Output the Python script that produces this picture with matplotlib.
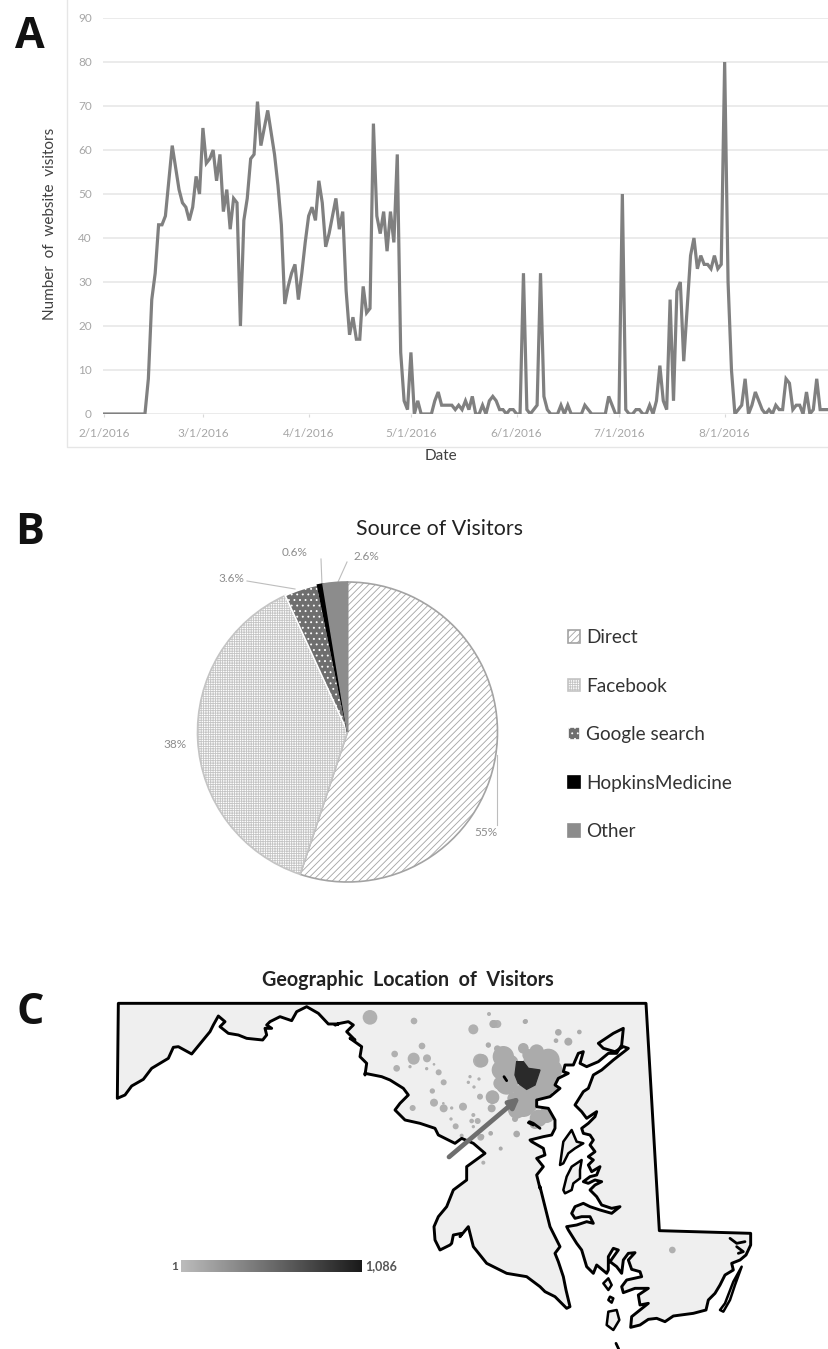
import matplotlib as mpl
import matplotlib.pyplot as plt
import numpy as np
import pandas as pd

mpl.rcParams["font.family"] = ["Lato", "DejaVu Sans"]
mpl.rcParams["hatch.linewidth"] = 0.6

W, H = 829, 1349

# Panel A: visitors per day from 2/1/2016
visitors = [
    0, 0, 0, 0, 0, 0, 0, 0, 0, 0, 0, 0, 0,
    8, 26, 32, 43, 43, 45, 53, 61, 56, 51, 48, 47, 44, 47, 54, 50, 65,
    57, 58, 60, 53, 59, 46, 51, 42, 49, 48,
    20, 44, 49, 58, 59, 71, 61, 65, 69, 64,
    59, 52, 43, 25, 29, 32, 34, 26, 32, 39,
    45, 47, 44, 53, 48, 38, 41, 45, 49, 42,
    46, 28, 18, 22, 17, 17, 29, 23, 24, 66,
    45, 41, 46, 37, 46, 39, 59, 14, 3, 1,
    14, 0, 3, 0, 0, 0, 0, 3, 5, 2,
    2, 2, 2, 1, 2, 1, 3, 1, 4, 0,
    0, 2, 0, 3, 4, 3, 1, 1, 0, 1,
    1, 0, 0, 32, 1, 0, 1, 2, 32, 4,
    1, 0, 0, 0, 2, 0, 2, 0, 0, 0,
    0, 2, 1, 0, 0, 0, 0, 0, 4, 2,
    0, 0, 50, 1, 0, 0, 1, 1, 0, 0,
    2, 0, 3, 11, 3, 1, 26, 3, 28, 30,
    12, 24, 36, 40, 33, 36, 34, 34, 33, 36,
    33, 34, 80, 30, 10, 0, 1, 2, 8, 0,
    2, 5, 3, 1, 0, 1, 0, 2, 1, 1,
    8, 7, 1, 2, 2, 0, 5, 0, 1, 8,
    1, 1, 1,
]
date_labels = ["2/1/2016", "3/1/2016", "4/1/2016", "5/1/2016", "6/1/2016", "7/1/2016", "8/1/2016"]
y_ticks = list(range(0, 100, 10))

# Panel B: traffic sources
sources = ["Direct", "Facebook", "Google search", "HopkinsMedicine", "Other"]
shares = [55, 38, 3.6, 0.6, 2.6]
share_labels = ["55%", "38%", "3.6%", "0.6%", "2.6%"]

# Panel C: map outline, traced piece by piece off zoomed crops of the picture.
# Each piece is in 3x crop units, with the crop's top left corner named first.
ne_corner = (430, 960)
ne_x = [648, 688]
ne_y = [130, 812]

se_corner = (560, 1210)
se_x = [572, 572, 558, 540, 515, 520, 495, 480, 465, 445, 438, 400, 340, 315, 290, 265, 240, 212, 215, 240, 265,
        240, 235, 265, 225, 190, 185, 200, 245, 240, 215, 205, 225, 205, 190, 185, 170, 150, 175, 160, 145, 145,
        140, 110, 100, 80, 65, 50, 25]
se_y = [70, 105, 135, 150, 160, 180, 195, 225, 250, 270, 300, 310, 318, 335, 325, 328, 345, 352, 320, 300, 280,
        285, 255, 235, 235, 248, 230, 210, 200, 185, 178, 150, 128, 130, 150, 190, 170, 155, 120, 115, 140, 180,
        190, 165, 190, 170, 120, 100, 60]

mid_corner = (540, 1110)
mid_x = [80, 110, 140, 160, 150, 125, 105, 95, 105, 130, 150, 180, 215, 240, 215, 185, 170, 150, 165, 185, 165,
         145, 130, 150, 170, 180, 155, 145, 160, 145, 165, 150, 160, 150, 130, 125, 145, 165, 170, 140, 125]
mid_y = [350, 345, 335, 340, 320, 320, 325, 310, 290, 280, 290, 300, 310, 290, 295, 285, 260, 240, 225, 215, 210,
         220, 215, 200, 195, 170, 185, 165, 150, 140, 125, 105, 90, 75, 70, 55, 40, 20, 5, 25, 5]

head_corner = (480, 1020)
head_x = [295, 285, 310, 325, 340, 365, 400, 445, 430, 405, 370, 355, 400, 430, 425, 410, 385, 355, 320, 300, 310,
          295, 280, 255, 250, 265, 235, 225, 240, 210, 170, 170, 205, 225, 225, 215, 190, 150]
head_y = [265, 255, 215, 205, 165, 150, 120, 85, 80, 95, 85, 70, 40, 25, 75, 100, 100, 125, 140, 130, 95,
          100, 135, 135, 155, 160, 175, 195, 205, 230, 240, 260, 265, 300, 325, 345, 350, 360]

shore_corner = (340, 1060)
shore_x = [575, 610, 615, 590, 610, 590, 600]
shore_y = [245, 265, 285, 295, 320, 345, 385]

south_corner = (430, 960)
south_x = [330, 345, 360, 375, 390, 375, 385, 400, 408, 420, 410, 375, 345, 330, 290, 230, 170, 130, 115, 90, 95,
           70, 65, 60, 30, 15, 12, 25, 50, 70, 110, 110, 165]
south_y = [680, 740, 800, 830, 860, 880, 905, 950, 990, 1040, 1045, 1010, 995, 980, 950, 940, 910, 860, 800, 830,
           820, 825, 850, 855, 870, 840, 800, 770, 740, 690, 660, 620, 580]

potomac_corner = (340, 1060)
potomac_x = [435, 400, 365, 345, 295, 285, 240, 195, 165, 180, 205, 190, 150, 125, 75]
potomac_y = [280, 250, 235, 250, 225, 205, 190, 180, 150, 130, 105, 85, 60, 50, 40]

ridge_corner = (100, 960)
ridge_x = [795, 800, 780, 785, 750, 765, 740, 760, 745, 720, 705]
ridge_y = [345, 310, 290, 260, 235, 240, 215, 195, 185, 190, 195]

north_corner = (110, 1000)
north_x = [685, 655, 625, 590, 560, 545, 510, 480, 470, 485, 465, 470, 458, 410, 385, 355, 330, 345, 325, 310, 300,
           245, 205, 190, 175, 125, 100, 65, 45, 22, 25]
north_y = [72, 72, 40, 20, 35, 62, 50, 65, 75, 85, 85, 105, 120, 115, 105, 100, 80, 65, 48, 75, 95,
           162, 140, 142, 175, 205, 238, 258, 285, 295, 10]

# islands and inlets, as loops in the crop they were read from
islands = [
    (mid_corner, [60, 65, 70, 95, 110, 130, 105, 85, 70], [165, 130, 95, 60, 95, 100, 115, 130, 160]),
    (mid_corner, [70, 80, 95, 125, 120, 120, 100, 95, 75], [240, 200, 170, 150, 180, 205, 220, 240, 250]),
    (se_corner, [480, 495, 520, 545, 525, 510, 490], [300, 280, 215, 170, 225, 270, 305]),
    (se_corner, [130, 145, 155, 145], [220, 205, 225, 240]),
    (se_corner, [150, 160, 155, 145], [260, 265, 278, 270]),
    (se_corner, [145, 170, 178, 160, 140], [305, 300, 330, 360, 345]),
]
inlets = [
    (se_corner, [510, 530, 555], [85, 100, 95]),
    (se_corner, [530, 550, 535], [110, 125, 130]),
    (se_corner, [168, 176], [400, 417]),
    (head_corner, [145, 160], [308, 315]),
    (head_corner, [72, 80], [170, 182]),
    (shore_corner, [568, 580, 600], [185, 190, 205]),
]

city_x = [110, 130, 145, 180, 165, 140, 115, 105]
city_y = [125, 125, 145, 150, 195, 208, 190, 165]

# visitor circles west of Baltimore: x, y and radius, crop units of corner (100, 960)
bubble_x = [810, 942, 1120, 1167, 1182, 966, 1165, 884, 941, 981, 1140, 890, 930, 980, 1002, 1016, 1031, 1110,
            1137, 1105, 1122, 997, 1140, 1177, 938, 1002, 1031, 1030, 1055, 1089, 1053, 1067, 1120, 1115, 1133,
            1120, 1085, 1142, 1172, 1150, 1202, 1166, 1192, 1277, 1717, 1430]
bubble_y = [172, 183, 208, 162, 192, 258, 256, 282, 296, 295, 302, 325, 320, 326, 313, 337, 367, 350,
            357, 367, 381, 393, 410, 411, 444, 428, 445, 430, 444, 440, 477, 499, 465, 483, 483,
            500, 527, 532, 520, 608, 566, 256, 192, 184, 870, 640]
bubble_r = [22, 10, 15, 6, 12, 10, 6, 10, 18, 12, 21, 10, 5, 5, 4, 9, 9, 5,
            5, 5, 5, 8, 9, 20, 9, 12, 12, 4, 5, 12, 5, 9, 6, 7, 9,
            5, 6, 10, 5, 6, 6, 6, 12, 7, 10, 12]

# visitor circles around Baltimore, crop units of head_corner
cluster_x = [70, 65, 130, 145, 205, 170, 200, 215, 185, 215, 80, 100, 100, 130, 110, 155, 175, 200, 105, 165, 110,
             38, 35, 5, 40, 25, 52, 135, 235, 298, 228, 265, 32, 62, 5, 140, 170, 90, 60, 150, 120, 150]
cluster_y = [110, 150, 85, 105, 120, 125, 170, 150, 205, 190, 190, 170, 235, 255, 270, 235, 295, 285, 297, 310, 342,
             232, 265, 122, 12, 75, 86, 5, 37, 36, 62, 65, 340, 385, 350, 225, 95, 130, 190, 125, 215, 255]
cluster_r = [32, 30, 16, 18, 34, 26, 32, 32, 34, 26, 34, 20, 18, 36, 26, 16, 26, 24, 9, 17, 10,
             20, 12, 20, 12, 8, 10, 7, 10, 7, 7, 12, 7, 5, 8, 24, 22, 26, 20, 20, 20, 22]
scale_labels = ["1", "1,086"]


def to_px(corner, xs, ys):
    return corner[0] + np.array(xs) / 3, corner[1] + np.array(ys) / 3


def px_axes(fig, left, top, right, bottom):
    return fig.add_axes([left / W, 1 - bottom / H, (right - left) / W, (bottom - top) / H])


fig = plt.figure(figsize=(W / 100, H / 100), dpi=100)

# overlay in picture pixels, for the letters, the frame and the map
over = fig.add_axes([0, 0, 1, 1])
over.set_xlim(0, W)
over.set_ylim(H, 0)
over.axis("off")

for letter, y_pos in zip("ABC", [37, 533, 1012]):
    over.text(30, y_pos, letter, fontsize=31, fontweight="bold", ha="center", va="center",
              family="Open Sans", color="#111111")

over.plot([67, 67, 829], [0, 447, 447], color="#e6e6e6", lw=1)

# Panel A
ax = px_axes(fig, 103, 18, 829, 414)
days = np.arange(len(visitors))
ax.plot(days, visitors, color="#808080", lw=2.3, solid_joinstyle="miter", zorder=3)
ax.set_xlim(-0.3, 212.6)
ax.set_ylim(0, 90)
start = pd.Timestamp("2016-02-01")
ax.set_xticks([(pd.Timestamp(d) - start).days for d in date_labels])
ax.set_xticklabels(date_labels)
ax.set_yticks(y_ticks)
ax.tick_params(axis="y", length=0, labelsize=8.5, labelcolor="#a6a6a6", pad=8)
ax.tick_params(axis="x", length=2, color="#d9d9d9", labelsize=8.5, labelcolor="#a6a6a6", pad=8)
ax.grid(axis="y", color="#e8e8e8", lw=1.2)
ax.set_axisbelow(True)
for s in ax.spines.values():
    s.set_visible(False)
over.text(50, 224, "Number  of  website  visitors", rotation=90, fontsize=11, color="#404040",
          ha="center", va="center")
over.text(441, 456, "Date", fontsize=11, color="#404040", ha="center", va="center")

# Panel B
pie_ax = px_axes(fig, 147.5, 532, 547.5, 932)
wedges, _ = pie_ax.pie(shares, startangle=90, counterclock=False, radius=1,
                       hatch=["/////", "+++++++", "...", None, None],
                       colors=["white", "white", "#6e6e6e", "black", "#8c8c8c"],
                       wedgeprops={"linewidth": 1.2})
for wedge, edge in zip(wedges, ["#a3a3a3", "#c4c4c4", "white", "black", "#8c8c8c"]):
    wedge.set_edgecolor(edge)
pie_ax.set_xlim(-4 / 3, 4 / 3)
pie_ax.set_ylim(-4 / 3, 4 / 3)
leg = pie_ax.legend(wedges, sources, loc="upper left", bbox_to_anchor=(568 / W, 1 - 629 / H),
                    bbox_transform=fig.transFigure, frameon=False, fontsize=13.7, handlelength=0.63,
                    handleheight=0.63, handletextpad=0.32, labelspacing=1.66, labelcolor="#333333",
                    borderpad=0, borderaxespad=0)
over.text(440, 529, "Source of Visitors", fontsize=15.4, color="#222222", ha="center", va="center")

label_pos = [(486, 832), (175, 745), (231, 578), (295, 552), (366, 557)]
for text, (x_pos, y_pos) in zip(share_labels, label_pos):
    over.text(x_pos, y_pos, text, fontsize=8.5, color="#8c8c8c", ha="center", va="center")
leader_x = [[497, 497], [247, 295], [321, 322], [347, 338]]
leader_y = [[755, 825], [581, 589], [559, 585], [562, 582]]
for xs, ys in zip(leader_x, leader_y):
    over.plot(xs, ys, color="#bdbdbd", lw=0.8)

# Panel C
over.text(408, 980, "Geographic  Location  of  Visitors", fontsize=14.2, fontweight="bold",
          color="#222222", ha="center", va="center")
pieces = [
    (ne_corner, ne_x, ne_y), (se_corner, se_x, se_y), (mid_corner, mid_x, mid_y), (head_corner, head_x, head_y),
    (shore_corner, shore_x, shore_y), (south_corner, south_x, south_y), (potomac_corner, potomac_x, potomac_y),
    (ridge_corner, ridge_x, ridge_y), (north_corner, north_x, north_y),
]
traced = [to_px(*p) for p in pieces]
outline_x = np.concatenate([t[0] for t in traced])
outline_y = np.concatenate([t[1] for t in traced])
over.fill(outline_x, outline_y, facecolor="#efefef", edgecolor="none", zorder=1)

bx, by = to_px(ridge_corner, bubble_x, bubble_y)
over.scatter(bx, by, s=(2 * np.array(bubble_r) / 3 * 0.72) ** 2, color="#b0b0b0", linewidths=0, zorder=2)
cx, cy = to_px(head_corner, cluster_x, cluster_y)
over.scatter(cx, cy, s=(2 * np.array(cluster_r) / 3 * 0.72) ** 2, color="#ababab", linewidths=0, zorder=2,
             clip_path=over.fill(outline_x, outline_y, color="none")[0])
city_px = to_px(head_corner, city_x, city_y)
over.fill(city_px[0], city_px[1], color="#2a2a2a", zorder=3)
over.fill(outline_x, outline_y, facecolor="none", edgecolor="black", lw=2.1, joinstyle="round", zorder=4)
for corner, xs, ys in islands:
    ix, iy = to_px(corner, xs, ys)
    over.fill(ix, iy, facecolor="#efefef", edgecolor="black", lw=1.8, joinstyle="round", zorder=4)
for corner, xs, ys in inlets:
    ix, iy = to_px(corner, xs, ys)
    over.plot(ix, iy, color="black", lw=2, solid_capstyle="round", zorder=4)
over.annotate("", xy=(520.0, 1097.0), xytext=(449.0, 1157.0), zorder=5,
              arrowprops={"arrowstyle": "-|>", "color": "#6e6e6e", "lw": 3.4, "mutation_scale": 15,
                          "shrinkA": 0, "shrinkB": 0})

bar_ax = px_axes(fig, 181, 1260, 362, 1272)
bar_ax.imshow(np.linspace(0, 1, 256)[None, :], aspect="auto", vmin=0, vmax=1,
              cmap=mpl.colors.LinearSegmentedColormap.from_list("visits", ["#bcbcbc", "#1a1a1a"]))
bar_ax.axis("off")
over.text(178, 1266, scale_labels[0], fontsize=8.5, fontweight="bold", color="#555555", ha="right", va="center")
over.text(365, 1266, scale_labels[1], fontsize=9, fontweight="bold", color="#555555", ha="left", va="center")

fig.savefig("out.png", dpi=100)
